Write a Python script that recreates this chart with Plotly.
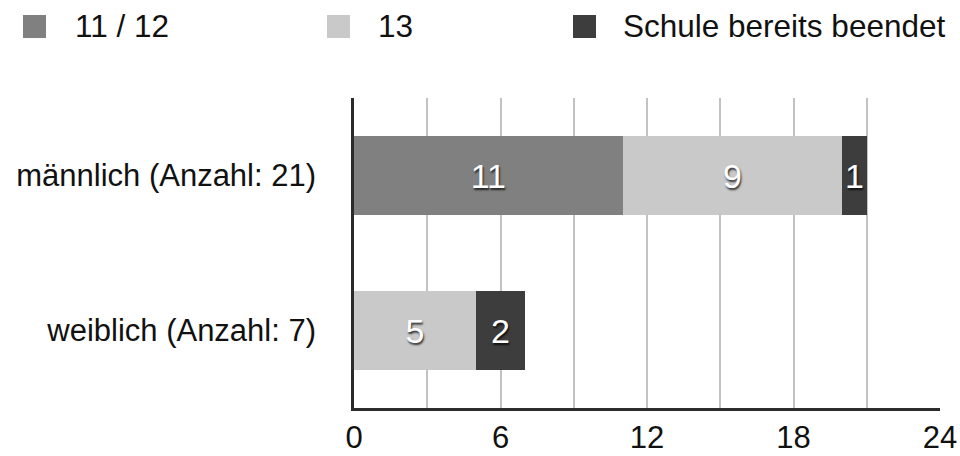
import plotly.graph_objects as go

# Data
categories = ["männlich (Anzahl: 21)", "weiblich (Anzahl: 7)"]
series_names = ["11 / 12", "13", "Schule bereits beendet"]
values_11_12 = [11, 0]
values_13 = [9, 5]
values_beendet = [1, 2]
series_colors = ["#808080", "#c9c9c9", "#3d3d3d"]
x_ticks = [0, 6, 12, 18, 24]

FONT = "Liberation Sans, Arial, Helvetica, sans-serif"

W, H = 960, 456
L, R, T, B = 354, 20, 98, 48
plot_w = W - L - R
plot_h = H - T - B

fig = go.Figure()
for name, vals, col in zip(series_names, [values_11_12, values_13, values_beendet], series_colors):
    fig.add_trace(go.Bar(
        y=categories,
        x=vals,
        name=name,
        orientation="h",
        marker=dict(color=col, line=dict(width=0)),
        text=[str(v) if v else "" for v in vals],
        textposition="inside",
        insidetextanchor="middle",
        textangle=0,
        textfont=dict(family=FONT, size=34, color="white",
                      shadow="1px 2px 2px rgba(0,0,0,0.75)"),
        constraintext="none",
        showlegend=False,
    ))


def px_x(px):
    return (px - L) / plot_w


def px_y(py):
    return (H - B - py) / plot_h


# Legend drawn as squares and labels across the top
legend_items = [(23, 73), (327, 376), (573, 621)]
for (sq_x, txt_x), name, col in zip(legend_items, series_names, series_colors):
    fig.add_shape(type="rect", xref="paper", yref="paper",
                  x0=px_x(sq_x), x1=px_x(sq_x + 23),
                  y0=px_y(38), y1=px_y(15),
                  fillcolor=col, line=dict(width=0))
    fig.add_annotation(xref="paper", yref="paper",
                       x=px_x(txt_x), y=px_y(26.5),
                       xanchor="left", yanchor="middle",
                       text=name, showarrow=False,
                       font=dict(family=FONT, size=31.5, color="#111111"))

fig.update_layout(
    barmode="stack",
    bargap=0.49,
    width=W, height=H,
    margin=dict(l=L, r=R, t=T, b=B, pad=0, autoexpand=False),
    paper_bgcolor="white",
    plot_bgcolor="white",
    font=dict(family=FONT, size=31, color="#111111"),
    uniformtext=dict(minsize=34, mode="show"),
)

fig.update_xaxes(
    range=[0, 24],
    tickvals=x_ticks,
    ticktext=[str(t) for t in x_ticks],
    showgrid=True, gridcolor="#c2c2c2", gridwidth=1.5,
    minor=dict(dtick=3, showgrid=True, gridcolor="#c2c2c2", gridwidth=1.5),
    showline=True, linecolor="#2b2b2b", linewidth=2.5,
    zeroline=False,
    ticks="", ticklabelstandoff=0,
    tickfont=dict(family=FONT, size=31, color="#111111"),
    automargin=False,
    fixedrange=True,
)
fig.update_yaxes(
    categoryorder="array", categoryarray=categories,
    autorange="reversed",
    showgrid=False,
    showline=True, linecolor="#2b2b2b", linewidth=2.5,
    ticks="", ticklabelstandoff=29,
    tickfont=dict(family=FONT, size=31, color="#111111"),
    automargin=False,
    fixedrange=True,
)

fig.write_html("out.html", config=dict(displayModeBar=False))
